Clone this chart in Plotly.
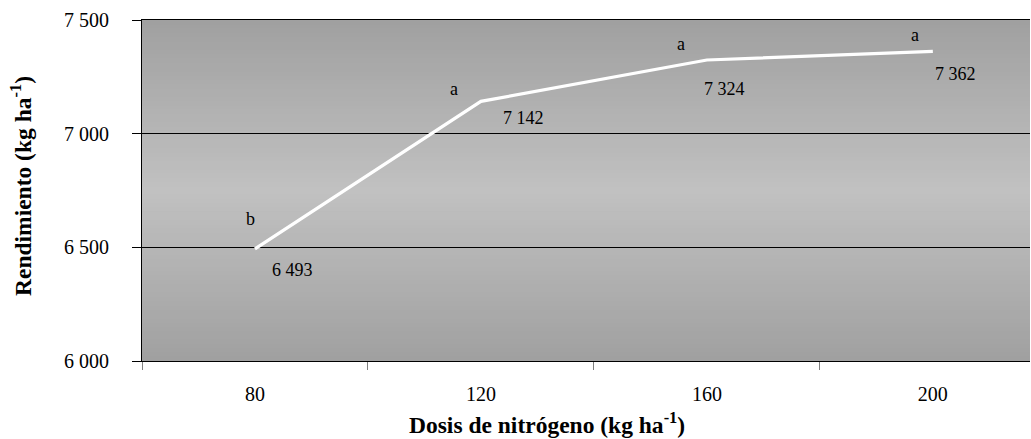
import plotly.graph_objects as go

doses = ["80", "120", "160", "200"]
yields = [6493, 7142, 7324, 7362]
letters = ["b", "a", "a", "a"]
y_ticks = [6000, 6500, 7000, 7500]

# label offsets in pixels (style only)
val_off = [(38, 21), (43, 17), (18, 29), (23, 23)]
let_off = [(-4, -30), (-27, -12), (-26, -16), (-18, -16)]

W, H = 1031, 439
ML, MR, MT, MB = 142, 1, 20, 78
PW = W - ML - MR
PH = H - MT - MB
FONT = "Liberation Serif"

fig = go.Figure()
fig.add_trace(go.Scatter(
    x=doses, y=yields, mode="lines",
    line=dict(color="white", width=3.2),
    hoverinfo="skip", showlegend=False,
))

# gradient background (dark at edges, light at middle)
n = 80
top_c, mid_c = 160, 193
for i in range(n):
    f0 = i / n
    f1 = (i + 1) / n
    fm = (f0 + f1) / 2
    t = abs(fm - 0.5) * 2  # 0 center -> 1 edge
    c = int(round(mid_c + (top_c - mid_c) * t))
    fig.add_shape(type="rect", xref="paper", yref="paper",
                  x0=0, x1=1, y0=f0, y1=f1 + 0.002,
                  fillcolor=f"rgb({c},{c},{c})", line=dict(width=0),
                  layer="below")

def fmt(v):
    return f"{v:,}".replace(",", " ")

for i, (v, l, vo, lo) in enumerate(zip(yields, letters, val_off, let_off)):
    fig.add_annotation(x=i, y=v, text=fmt(v), showarrow=False,
                       xshift=vo[0], yshift=-vo[1],
                       font=dict(family=FONT, size=18, color="black"))
    fig.add_annotation(x=i, y=v, text=l, showarrow=False,
                       xshift=lo[0], yshift=-lo[1],
                       font=dict(family=FONT, size=18, color="black"))

fig.add_annotation(xref="paper", yref="paper",
                   x=(21 - ML) / PW, y=(MT + PH - 186) / PH, textangle=-90,
                   text="<b>Rendimiento (kg ha<sup>-1</sup>)</b>",
                   showarrow=False, xanchor="center", yanchor="middle",
                   font=dict(family=FONT, size=23.5, color="black"))
fig.add_annotation(xref="paper", yref="paper",
                   x=(547 - ML) / PW, y=(MT + PH - 440) / PH,
                   text="<b>Dosis de nitrógeno (kg ha<sup>-1</sup>)</b>",
                   showarrow=False, xanchor="center", yanchor="bottom",
                   font=dict(family=FONT, size=23.5, color="black"))

fig.update_layout(
    width=W, height=H,
    margin=dict(l=ML, r=MR, t=MT, b=MB),
    paper_bgcolor="white", plot_bgcolor="rgb(176,176,176)",
    separators=". ",
    font=dict(family=FONT, size=20, color="black"),
)
fig.update_xaxes(
    type="category", range=[-0.5, 3.43],
    showgrid=False, showline=True, linecolor="black", linewidth=1,
    mirror=True,
    ticks="outside", tickson="boundaries", ticklen=8,
    tickcolor="#808080", tickwidth=1,
    tickfont=dict(family=FONT, size=20, color="black"),
    ticklabelstandoff=15,
)
fig.update_yaxes(
    range=[6000, 7500], tickvals=y_ticks, tickformat=",d",
    showgrid=True, gridcolor="black", gridwidth=1,
    showline=True, linecolor="black", linewidth=1,
    ticks="outside", ticklen=9, tickcolor="black",
    tickfont=dict(family=FONT, size=20, color="black"),
    zeroline=False, ticklabelstandoff=19,
)

fig.write_html("out.html", config={"displayModeBar": False},
               post_script="document.body.style.margin='0';")
